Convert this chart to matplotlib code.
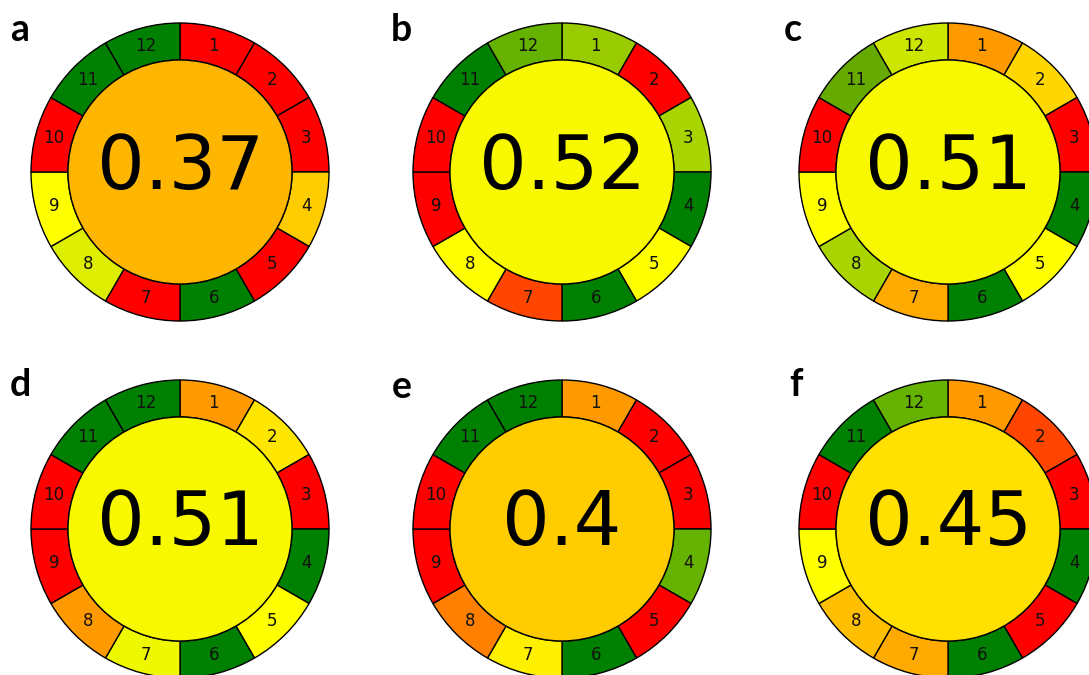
import numpy as np
import matplotlib.pyplot as plt
from matplotlib.patches import Wedge, Circle

# --- Panel data (AGREE-style pictograms) ---
panel_letters = ['a', 'b', 'c', 'd', 'e', 'f']
total_scores = ['0.37', '0.52', '0.51', '0.51', '0.4', '0.45']
segment_names = [str(i) for i in range(1, 13)]

center_colors = ['#ffb600', '#f8f800', '#f8f800', '#f8f800', '#ffcc00', '#ffe000']

# segment colours, criteria 1..12
colors_a = ['#ff0000', '#ff0000', '#ff0000', '#ffcc00', '#ff0000', '#008000',
            '#ff0000', '#ddee00', '#ffff00', '#ff0000', '#008000', '#008000']
colors_b = ['#99cc00', '#ff0000', '#aad400', '#008000', '#ffff00', '#008000',
            '#ff4500', '#ffff00', '#ff0000', '#ff0000', '#008000', '#66b200']
colors_c = ['#ff9900', '#ffd700', '#ff0000', '#008000', '#ffff00', '#008000',
            '#ffaa00', '#aad400', '#ffff00', '#ff0000', '#66aa00', '#cce600']
colors_d = ['#ff9900', '#ffe600', '#ff0000', '#008000', '#ffff00', '#008000',
            '#eef800', '#ff9900', '#ff0000', '#ff0000', '#008000', '#008000']
colors_e = ['#ff9900', '#ff0000', '#ff0000', '#66b200', '#ff0000', '#008000',
            '#fff000', '#ff8000', '#ff0000', '#ff0000', '#008000', '#008000']
colors_f = ['#ff9900', '#ff4500', '#ff0000', '#008000', '#ff0000', '#008000',
            '#ffaa00', '#ffbe00', '#ffff00', '#ff0000', '#008000', '#66b200']
segment_colors = [colors_a, colors_b, colors_c, colors_d, colors_e, colors_f]

# --- Layout (pixel coordinates of the figure) ---
centers = [(180, 172), (562, 172), (948, 172),
           (180, 529), (562, 529), (948, 529)]
letter_pos = [(20, 30), (401, 30), (793, 30),
              (20, 385), (402, 387), (796, 385)]
r_out, r_in = 149, 112
r_lab = (r_out + r_in) / 2

fig = plt.figure(figsize=(10.89, 6.75), dpi=100)
ax = fig.add_axes([0, 0, 1, 1])
ax.set_xlim(0, 1089)
ax.set_ylim(675, 0)
ax.set_aspect('equal')
ax.axis('off')

for k in range(6):
    cx, cy = centers[k]
    for i in range(12):
        # clockwise from 12 o'clock (y axis is inverted)
        t1 = -90 + 30 * i
        t2 = t1 + 30
        ax.add_patch(Wedge((cx, cy), r_out, t1, t2, width=r_out - r_in,
                           facecolor=segment_colors[k][i], edgecolor='black', lw=1.0))
        a = np.deg2rad(t1 + 15)
        ax.text(cx + r_lab * np.cos(a), cy + r_lab * np.sin(a), segment_names[i],
                ha='center', va='center', fontsize=12, color='#111111')
    ax.add_patch(Circle((cx, cy), r_in, facecolor=center_colors[k],
                        edgecolor='black', lw=1.0))
    ax.text(cx, cy - 4, total_scores[k], ha='center', va='center', fontsize=54)
    lx, ly = letter_pos[k]
    ax.text(lx, ly, panel_letters[k], ha='center', va='center', fontsize=27,
            fontweight='bold', family='Lato')

plt.savefig('out.png', dpi=100)
